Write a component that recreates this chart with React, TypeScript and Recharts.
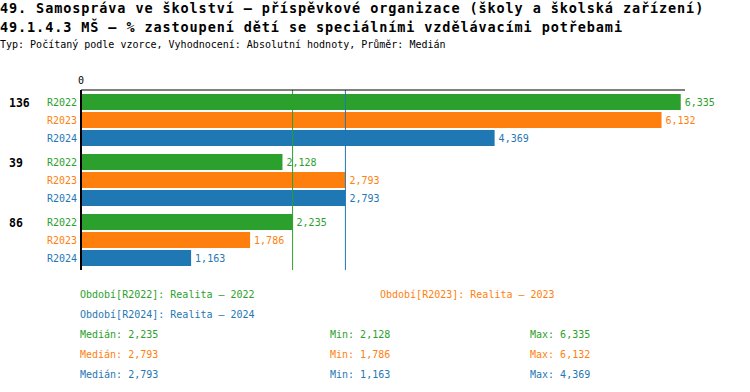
import { BarChart, Bar, XAxis, YAxis, ReferenceLine, LabelList } from "recharts"

const groups = ["136", "39", "86"]
const periods = ["R2022", "R2023", "R2024"]
const periodTitles = ["Realita – 2022", "Realita – 2023", "Realita – 2024"]
const r2022 = [6.335, 2.128, 2.235]
const r2023 = [6.132, 2.793, 1.786]
const r2024 = [4.369, 2.793, 1.163]
const xTicks = [0]

const COLORS = ["#2ca02c", "#ff7f0e", "#1f77b4"]
const FONT = "'DejaVu Sans Mono', 'Liberation Mono', monospace"

const series = [r2022, r2023, r2024]
const data = groups.map((g, i) => ({
  group: g,
  R2022: r2022[i],
  R2023: r2023[i],
  R2024: r2024[i],
}))

const fmt = (v: number) => v.toFixed(3).replace(".", ",")
const median = (arr: number[]) => {
  const s = [...arr].sort((a, b) => a - b)
  return s[Math.floor(s.length / 2)]
}
const medians = series.map(median)

// text placed by baseline
function Txt({ x, base, size, color = "#000", bold = false, spacing = 0, children }: any) {
  return (
    <div
      style={{
        position: "absolute",
        left: x,
        top: base - 0.928 * size,
        fontSize: size,
        lineHeight: `${size * 1.164}px`,
        fontWeight: bold ? "bold" : "normal",
        color,
        whiteSpace: "nowrap",
        letterSpacing: spacing,
      }}
    >
      {children}
    </div>
  )
}

function GroupTick({ y, payload }: any) {
  return (
    <g fontFamily={FONT}>
      <text x={9} y={y - 18} dy={4.5} fontWeight="bold" fontSize={11.5} fill="#000">
        {payload.value}
      </text>
      {periods.map((p, i) => (
        <text key={p} x={77} y={y + (i - 1) * 18} dy={3.5} textAnchor="end" fontSize={10} fill={COLORS[i]}>
          {p}
        </text>
      ))}
    </g>
  )
}

function ZeroTick({ x, payload }: any) {
  return (
    <text x={x} y={84} textAnchor="middle" fontSize={10} fontFamily={FONT} fill="#000">
      {payload.value}
    </text>
  )
}

export default function App() {
  return (
    <div
      style={{
        position: "absolute",
        left: 0,
        top: 0,
        width: 750,
        height: 392,
        background: "#fff",
        fontFamily: FONT,
        overflow: "hidden",
      }}
    >
      <Txt x={0} base={14} size={13.5} bold spacing={0.9}>
        49. Samospráva ve školství – příspěvkové organizace (školy a školská zařízení)
      </Txt>
      <Txt x={0} base={33} size={13.5} bold spacing={0.9}>
        49.1.4.3 MŠ – % zastoupení dětí se speciálními vzdělávacími potřebami
      </Txt>
      <Txt x={0} base={48} size={10}>
        Typ: Počítaný podle vzorce, Vyhodnocení: Absolutní hodnoty, Průměr: Medián
      </Txt>

      <div style={{ position: "absolute", left: 0, top: 0 }}>
        <BarChart
          width={750}
          height={280}
          data={data}
          layout="vertical"
          margin={{ top: 70, right: 65, bottom: 10, left: 0 }}
          barSize={16}
          barGap={2}
        >
          <XAxis
            type="number"
            orientation="top"
            domain={[0, 6.38]}
            ticks={xTicks}
            height={20}
            axisLine={{ stroke: "#000", strokeWidth: 1 }}
            tickLine={false}
            tick={<ZeroTick />}
          />
          <YAxis
            type="category"
            dataKey="group"
            width={81}
            axisLine={{ stroke: "#000", strokeWidth: 2 }}
            tickLine={false}
            tick={<GroupTick />}
          />
          {periods.map((p, i) => (
            <Bar key={p} dataKey={p} fill={COLORS[i]} isAnimationActive={false}>
              <LabelList
                dataKey={p}
                position="right"
                offset={4}
                formatter={(v: any) => fmt(Number(v))}
                style={{ fill: COLORS[i], fontSize: 10, fontFamily: FONT }}
              />
            </Bar>
          ))}
          {/* a median line hidden under a later identical one is skipped */}
          {periods.map((p, i) =>
            medians.slice(i + 1).includes(medians[i]) ? null : (
              <ReferenceLine key={p} x={medians[i]} stroke={COLORS[i]} strokeWidth={1} />
            )
          )}
        </BarChart>
      </div>

      <Txt x={80} base={298} size={10} color={COLORS[0]}>
        Období[{periods[0]}]: {periodTitles[0]}
      </Txt>
      <Txt x={380} base={298} size={10} color={COLORS[1]}>
        Období[{periods[1]}]: {periodTitles[1]}
      </Txt>
      <Txt x={80} base={318} size={10} color={COLORS[2]}>
        Období[{periods[2]}]: {periodTitles[2]}
      </Txt>
      {series.map((s, i) => (
        <div key={i}>
          <Txt x={80} base={338 + i * 20} size={10} color={COLORS[i]}>
            Medián: {fmt(medians[i])}
          </Txt>
          <Txt x={330} base={338 + i * 20} size={10} color={COLORS[i]}>
            Min: {fmt(Math.min(...s))}
          </Txt>
          <Txt x={530} base={338 + i * 20} size={10} color={COLORS[i]}>
            Max: {fmt(Math.max(...s))}
          </Txt>
        </div>
      ))}
    </div>
  )
}
